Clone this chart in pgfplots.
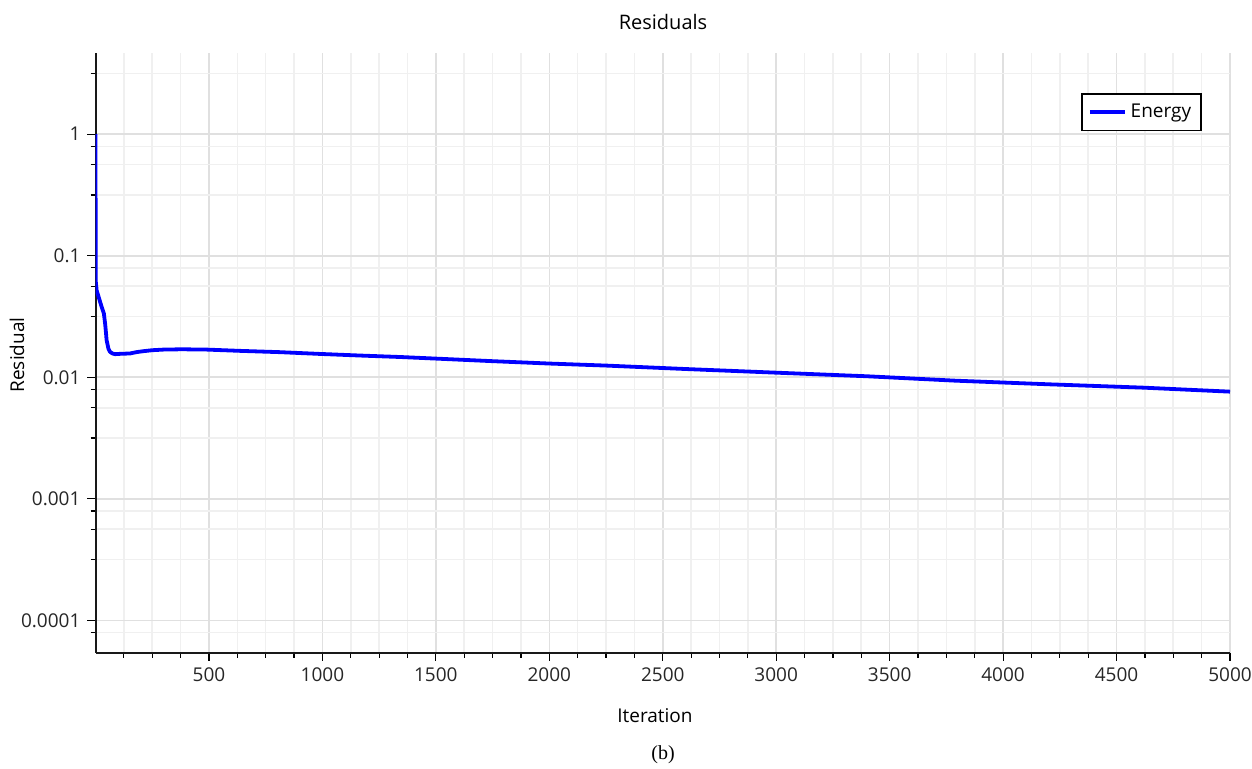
\documentclass[border=0pt]{standalone}
\usepackage{pgfplots}
\pgfplotsset{compat=1.18}
\usepackage{fontspec}
\setmainfont{Open Sans}
\newfontfamily\timesfont{Liberation Serif}
\definecolor{lineblue}{RGB}{0,0,255}
\begin{document}
\begin{tikzpicture}[x=1pt,y=1pt]
\path[use as bounding box] (0,0) rectangle (626,384.5);
\begin{axis}[
  at={(47.75pt,58pt)}, anchor=south west,
  scale only axis, width=567.25pt, height=300pt,
  xmin=0, xmax=5000, ymode=log, ymin=5.4e-5, ymax=4.65,
  axis x line*=bottom, axis y line*=left,
  axis line style={-, line width=1pt, black!90},
  tick align=outside,
  xtick={500,1000,1500,2000,2500,3000,3500,4000,4500,5000},
  xticklabels={500,1000,1500,2000,2500,3000,3500,4000,4500,5000},
  minor xtick={125,250,375,625,750,875,1125,1250,1375,1625,1750,1875,2125,2250,2375,2625,2750,2875,3125,3250,3375,3625,3750,3875,4125,4250,4375,4625,4750,4875},
  ytick={0.0001,0.001,0.01,0.1,1},
  yticklabels={0.0001,0.001,0.01,0.1,1},
  minor ytick={3.162,0.7943,0.5623,0.3162,0.07943,0.05623,0.03162,0.007943,0.005623,0.003162,0.0007943,0.0005623,0.0003162,0.00007943},
  major tick length=4pt, minor tick length=2.5pt,
  tick style={black, line width=0.6pt},
  grid=both,
  major grid style={line width=0.8pt, black!12},
  minor grid style={line width=0.8pt, black!6},
  ticklabel style={font=\fontsize{9.5}{11}\selectfont, color=black!85},
  legend style={at={(0.9753,0.9333)}, anchor=north east, draw=black, line width=0.8pt,
    font=\fontsize{9.5}{11}\selectfont, inner xsep=3pt, inner ysep=3pt},
  legend image code/.code={\draw[#1] (0pt,0pt) -- (17.5pt,0pt);},
]
\addplot[color=lineblue, line width=1.9pt, line join=round] coordinates {
(0,1.0) (1,0.062) (5,0.052) (15,0.045) (27,0.038) (37,0.0334) (43,0.027)
(49,0.0202) (57,0.0172) (64,0.0162) (75,0.0157) (86,0.0155) (110,0.0156)
(152,0.0157) (180,0.0161) (211,0.0164) (250,0.0167) (299,0.0169) (380,0.0170)
(490,0.0169) (637,0.0165) (813,0.0161) (989,0.01557) (1166,0.0151) (1342,0.01469)
(1518,0.0142) (1739,0.0136) (2003,0.01297) (2253,0.01248) (2600,0.0117)
(2987,0.01094) (3399,0.0102) (3790,0.00938) (4207,0.00875) (4618,0.00822) (5000,0.00762)
};
\addlegendentry{Energy}
\end{axis}
\node[font=\fontsize{10}{12}\selectfont] at (331.5,373.5) {Residuals};
\node[font=\fontsize{9.5}{11}\selectfont] at (327.5,26.5) {Iteration};
\node[rotate=90, font=\fontsize{9.5}{11}\selectfont] at (8.5,207) {Residual};
\node[font=\timesfont\fontsize{10}{12}\selectfont] at (331.5,7) {(b)};
\end{tikzpicture}
\end{document}
